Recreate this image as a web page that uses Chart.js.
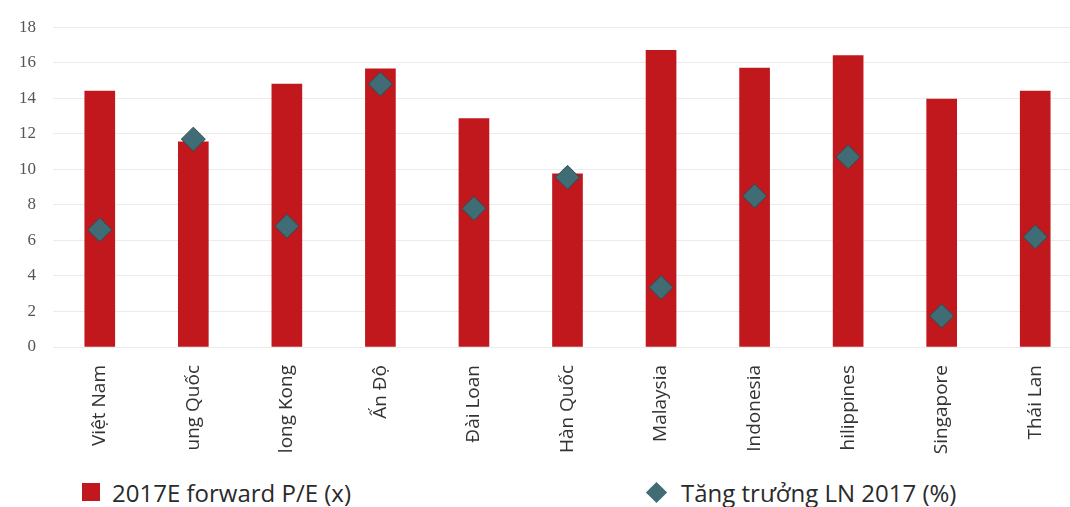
<!DOCTYPE html>
<html>
<head>
<meta charset="utf-8">
<script src="https://cdn.jsdelivr.net/npm/chart.js@4.4.1/dist/chart.umd.min.js"></script>
<style>
  html, body { margin: 0; padding: 0; background: #fff; overflow: hidden; }
  #wrap { position: relative; width: 1070px; height: 507px; overflow: hidden; }
  #chart { position: absolute; left: 0; top: 0; }
  #legend { position: absolute; left: 0; top: 476px; width: 1070px; height: 32px;
    font-family: 'Open Sans', 'Noto Sans', sans-serif; font-size: 24px; color: #2a2a2a; }
  .lg-item { position: absolute; top: 0; display: flex; align-items: center; height: 32px; white-space: nowrap; }
  .lg-mark { display: inline-block; }
</style>
</head>
<body>
<div id="wrap">
  <canvas id="chart" width="1095" height="465"></canvas>
  <div id="legend"></div>
</div>
<script>
// ── Data ────────────────────────────────────────────────────────────────
const countries = ['Việt Nam', 'ung Quốc', 'long Kong', 'Ấn Độ', 'Đài Loan', 'Hàn Quốc',
  'Malaysia', 'Indonesia', 'hilippines', 'Singapore', 'Thái Lan'];
const forwardPE = [14.4, 11.55, 14.8, 15.65, 12.85, 9.75, 16.7, 15.7, 16.4, 13.95, 14.4];
const profitGrowth = [6.6, 11.7, 6.8, 14.8, 7.8, 9.55, 3.35, 8.5, 10.7, 1.75, 6.2];
const yTicks = [0, 2, 4, 6, 8, 10, 12, 14, 16, 18];

const BAR_RED = '#c1181d';
const DIAMOND = '#3f6c75';
const DIAMOND_EDGE = '#2c4d55';

// ── Chart ───────────────────────────────────────────────────────────────
const chart = new Chart(document.getElementById('chart'), {
  data: {
    labels: countries,
    datasets: [
      {
        type: 'scatter',
        label: 'Tăng trưởng LN 2017 (%)',
        data: profitGrowth,
        pointStyle: 'rectRot',
        pointRadius: 12,
        backgroundColor: DIAMOND,
        borderColor: DIAMOND_EDGE,
        borderWidth: 1,
        showLine: false,
        order: 0
      },
      {
        type: 'bar',
        label: '2017E forward P/E (x)',
        data: forwardPE,
        backgroundColor: BAR_RED,
        barThickness: 30,
        order: 1
      }
    ]
  },
  options: {
    responsive: false,
    devicePixelRatio: 1,
    animation: false,
    layout: { padding: { top: 12, right: 0, bottom: 0, left: 0 } },
    plugins: { legend: { display: false }, tooltip: { enabled: false } },
    scales: {
      x: {
        type: 'category',
        offset: true,
        grid: { display: false },
        border: { display: false },
        ticks: {
          minRotation: 90, maxRotation: 90, padding: 10, autoSkip: false,
          color: '#333', font: { family: "'Open Sans', 'Noto Sans', sans-serif", size: 19 }
        },
        afterFit: (s) => { s.height = 118; }
      },
      y: {
        min: 0, max: 18,
        afterBuildTicks: (s) => { s.ticks = yTicks.map(v => ({ value: v })); },
        grid: { color: '#ebebeb', drawTicks: false, lineWidth: 1 },
        border: { display: false },
        ticks: {
          padding: 17, color: '#555',
          font: { family: "'Liberation Serif', 'DejaVu Serif', serif", size: 17 }
        },
        afterFit: (s) => { s.width = 53; }
      }
    }
  }
});

// ── Legend ──────────────────────────────────────────────────────────────
const legendEl = document.getElementById('legend');
const legendPos = [82, 645];
[chart.data.datasets[1], chart.data.datasets[0]].forEach((ds, i) => {
  const item = document.createElement('div');
  item.className = 'lg-item';
  item.style.left = legendPos[i] + 'px';
  const mark = document.createElement('span');
  mark.className = 'lg-mark';
  if (ds.type === 'bar') {
    mark.style.cssText = `width:18px;height:18px;background:${BAR_RED};margin-right:12px`;
  } else {
    mark.style.cssText = `width:15px;height:15px;background:${DIAMOND};transform:rotate(45deg);margin:0 17px 0 4px`;
  }
  const txt = document.createElement('span');
  txt.textContent = ds.label;
  item.appendChild(mark);
  item.appendChild(txt);
  legendEl.appendChild(item);
});
</script>
</body>
</html>
